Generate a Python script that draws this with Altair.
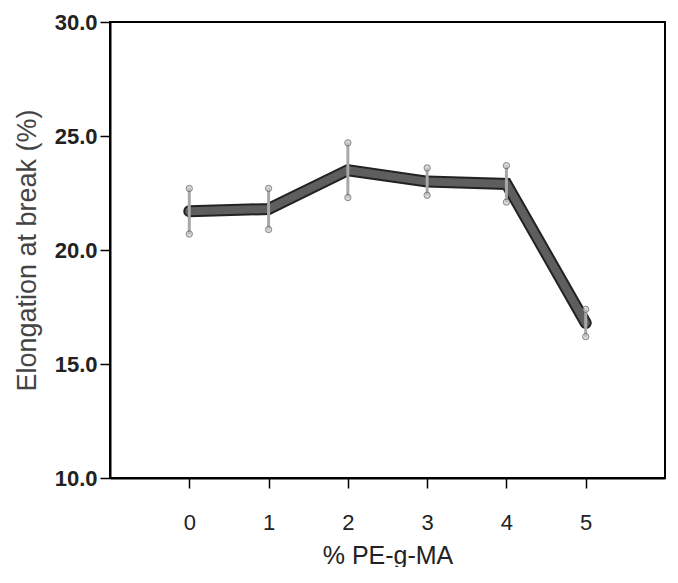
import altair as alt
import pandas as pd

pe_g_ma = [0, 1, 2, 3, 4, 5]
elongation = [21.7, 21.8, 23.5, 23.0, 22.9, 16.8]
err = [1.0, 0.9, 1.2, 0.6, 0.8, 0.6]

df = pd.DataFrame({
    "x": pe_g_ma,
    "y": elongation,
    "lo": [v - e for v, e in zip(elongation, err)],
    "hi": [v + e for v, e in zip(elongation, err)],
})

xscale = alt.Scale(domain=[-1, 6], nice=False, zero=False)
yscale = alt.Scale(domain=[10, 30], nice=False, zero=False)

xaxis = alt.Axis(
    values=pe_g_ma, format="d", title="% PE-g-MA", grid=False, domain=True,
    domainColor="black", domainWidth=2, tickColor="black", tickWidth=1.5,
    tickSize=10, labelPadding=24, labelFont="Liberation Sans", labelFontSize=22,
    labelColor="#222", titleFont="Liberation Sans", titleFontSize=25,
    titleFontWeight="normal", titleColor="#222", titlePadding=10,
)
yaxis = alt.Axis(
    values=[10, 15, 20, 25, 30], format=".1f", title="Elongation at break (%)",
    grid=False, domainColor="black", domainWidth=2, tickColor="black",
    tickWidth=1.5, tickSize=10, labelPadding=3, labelFont="Liberation Sans",
    labelFontSize=22, labelFontWeight="bold", labelColor="#222",
    titleFont="Liberation Sans", titleFontSize=27, titleFontWeight="normal",
    titleColor="#444", titlePadding=13,
)

base = alt.Chart(df)

outline = base.mark_line(color="#222", strokeWidth=12, strokeJoin="miter", strokeCap="round").encode(
    x=alt.X("x:Q", scale=xscale, axis=xaxis),
    y=alt.Y("y:Q", scale=yscale, axis=yaxis),
)
fill = base.mark_line(color="#5e5e5e", strokeWidth=8, strokeJoin="miter", strokeCap="round").encode(
    x=alt.X("x:Q", scale=xscale),
    y=alt.Y("y:Q", scale=yscale),
)
bars = base.mark_rule(color="#a8a8a8", strokeWidth=3).encode(
    x=alt.X("x:Q", scale=xscale),
    y=alt.Y("lo:Q", scale=yscale),
    y2="hi:Q",
)
cap_hi = base.mark_point(shape="circle", size=40, filled=True, color="#c8c8c8",
                         stroke="#555", strokeWidth=1).encode(
    x=alt.X("x:Q", scale=xscale),
    y=alt.Y("hi:Q", scale=yscale),
)
cap_lo = base.mark_point(shape="circle", size=40, filled=True, color="#c8c8c8",
                         stroke="#555", strokeWidth=1).encode(
    x=alt.X("x:Q", scale=xscale),
    y=alt.Y("lo:Q", scale=yscale),
)

chart = alt.layer(outline, fill, bars, cap_hi, cap_lo).properties(
    width=555, height=456,
    autosize=alt.AutoSizeParams(type="none"),
    padding={"left": 102, "top": 14, "right": 5, "bottom": 89},
    background="white",
).configure_view(stroke="black", strokeWidth=2)

chart.save("out.html", embed_options={"renderer": "svg", "actions": False})
